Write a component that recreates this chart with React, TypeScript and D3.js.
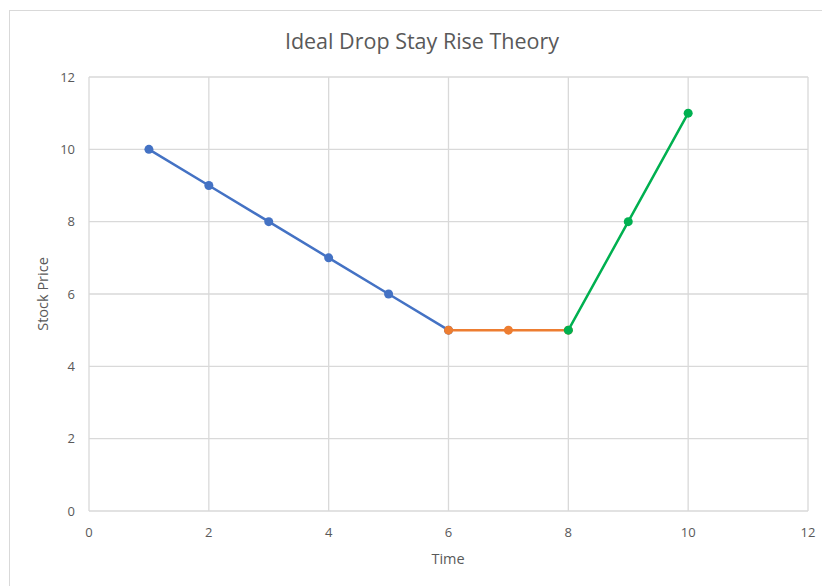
import { useEffect, useRef } from "react";
import * as d3 from "d3";

const dropX = [1, 2, 3, 4, 5, 6];
const dropY = [10, 9, 8, 7, 6, 5];
const stayX = [6, 7, 8];
const stayY = [5, 5, 5];
const riseX = [8, 9, 10];
const riseY = [5, 8, 11];
const xTicks = [0, 2, 4, 6, 8, 10, 12];
const yTicks = [0, 2, 4, 6, 8, 10, 12];

const series = [
  { xs: dropX, ys: dropY, color: "#4472C4" },
  { xs: stayX, ys: stayY, color: "#ED7D31" },
  { xs: riseX, ys: riseY, color: "#00B050" },
];

const App = () => {
  const ref = useRef<SVGSVGElement>(null);

  useEffect(() => {
    const svg: any = d3.select(ref.current);
    svg.selectAll("*").remove();
    const font = "'Open Sans', 'Noto Sans', sans-serif";

    // outer chart border
    svg
      .append("rect")
      .attr("x", 9.5)
      .attr("y", 10.5)
      .attr("width", 830)
      .attr("height", 600)
      .attr("fill", "white")
      .attr("stroke", "#d9d9d9");

    const x = d3.scaleLinear().domain([0, 12]).range([89, 808]);
    const y = d3.scaleLinear().domain([0, 12]).range([511, 77]);

    // grid
    svg
      .selectAll(".vgrid")
      .data(xTicks)
      .enter()
      .append("line")
      .attr("x1", (d: number) => x(d))
      .attr("x2", (d: number) => x(d))
      .attr("y1", y(0))
      .attr("y2", y(12))
      .attr("stroke", "#d9d9d9")
      .attr("stroke-width", 1.3);
    svg
      .selectAll(".hgrid")
      .data(yTicks)
      .enter()
      .append("line")
      .attr("x1", x(0))
      .attr("x2", x(12))
      .attr("y1", (d: number) => y(d))
      .attr("y2", (d: number) => y(d))
      .attr("stroke", "#d9d9d9")
      .attr("stroke-width", 1.3);

    // tick labels
    svg
      .selectAll(".xlab")
      .data(xTicks)
      .enter()
      .append("text")
      .attr("x", (d: number) => x(d))
      .attr("y", y(0) + 26)
      .attr("text-anchor", "middle")
      .attr("font-family", font)
      .attr("font-size", 13)
      .attr("fill", "#595959")
      .text((d: number) => d);
    svg
      .selectAll(".ylab")
      .data(yTicks)
      .enter()
      .append("text")
      .attr("x", x(0) - 14)
      .attr("y", (d: number) => y(d) + 4.5)
      .attr("text-anchor", "end")
      .attr("font-family", font)
      .attr("font-size", 13)
      .attr("fill", "#595959")
      .text((d: number) => d);

    // titles
    svg
      .append("text")
      .attr("x", 422)
      .attr("y", 49)
      .attr("text-anchor", "middle")
      .attr("font-family", font)
      .attr("font-size", 21.5)
      .attr("fill", "#595959")
      .text("Ideal Drop Stay Rise Theory");
    svg
      .append("text")
      .attr("x", 448)
      .attr("y", 564)
      .attr("text-anchor", "middle")
      .attr("font-family", font)
      .attr("font-size", 14.5)
      .attr("fill", "#595959")
      .text("Time");
    svg
      .append("text")
      .attr("transform", "translate(48,294) rotate(-90)")
      .attr("text-anchor", "middle")
      .attr("font-family", font)
      .attr("font-size", 14.5)
      .attr("fill", "#595959")
      .text("Stock Price");

    // lines and markers
    series.forEach((s) => {
      const pts: [number, number][] = s.xs.map((v, i) => [v, s.ys[i]]);
      const line = d3
        .line<[number, number]>()
        .x((d) => x(d[0]))
        .y((d) => y(d[1]));
      svg
        .append("path")
        .attr("d", line(pts))
        .attr("fill", "none")
        .attr("stroke", s.color)
        .attr("stroke-width", 2.5);
      svg
        .selectAll(null)
        .data(pts)
        .enter()
        .append("circle")
        .attr("cx", (d: [number, number]) => x(d[0]))
        .attr("cy", (d: [number, number]) => y(d[1]))
        .attr("r", 4.5)
        .attr("fill", s.color);
    });
  }, []);

  return (
    <svg
      ref={ref}
      width={822}
      height={586}
      style={{ position: "absolute", left: 0, top: 0, background: "white" }}
    />
  );
};

export default App;
